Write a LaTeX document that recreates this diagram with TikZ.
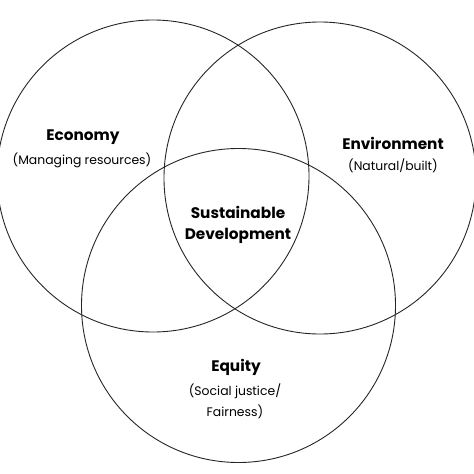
\documentclass[tikz,border=0pt]{standalone}
\usepackage{fontspec}
\setmainfont{Poppins}
\begin{document}
\begin{tikzpicture}[x=1pt,y=-1pt,
  ring/.style={draw=black!85,line width=0.9pt},
  title/.style={font=\bfseries\fontsize{15.3}{17}\selectfont,inner sep=0pt},
  sub/.style={font=\fontsize{12.4}{14}\selectfont,inner sep=0pt}]
\useasboundingbox[fill=white] (0,0) rectangle (474,474);
\draw[ring] (153,176) circle[radius=156];
\draw[ring] (320,178) circle[radius=156];
\draw[ring] (238.5,305.5) circle[radius=157];
\node[title] (eco) at (83,137) {Economy};
\node[sub] (ecos) at (82,160) {(Managing resources)};
\node[title] (env) at (393,143) {Environment};
\node[sub] (envs) at (393,166) {(Natural/built)};
\node[title] (sd1) at (238,212) {Sustainable};
\node[title] (sd2) at (238,236) {Development};
\node[title] (equ) at (236,367) {Equity};
\node[sub] (equs1) at (235,391) {(Social justice/};
\node[sub] (equs2) at (235,412) {Fairness)};
\end{tikzpicture}
\end{document}
